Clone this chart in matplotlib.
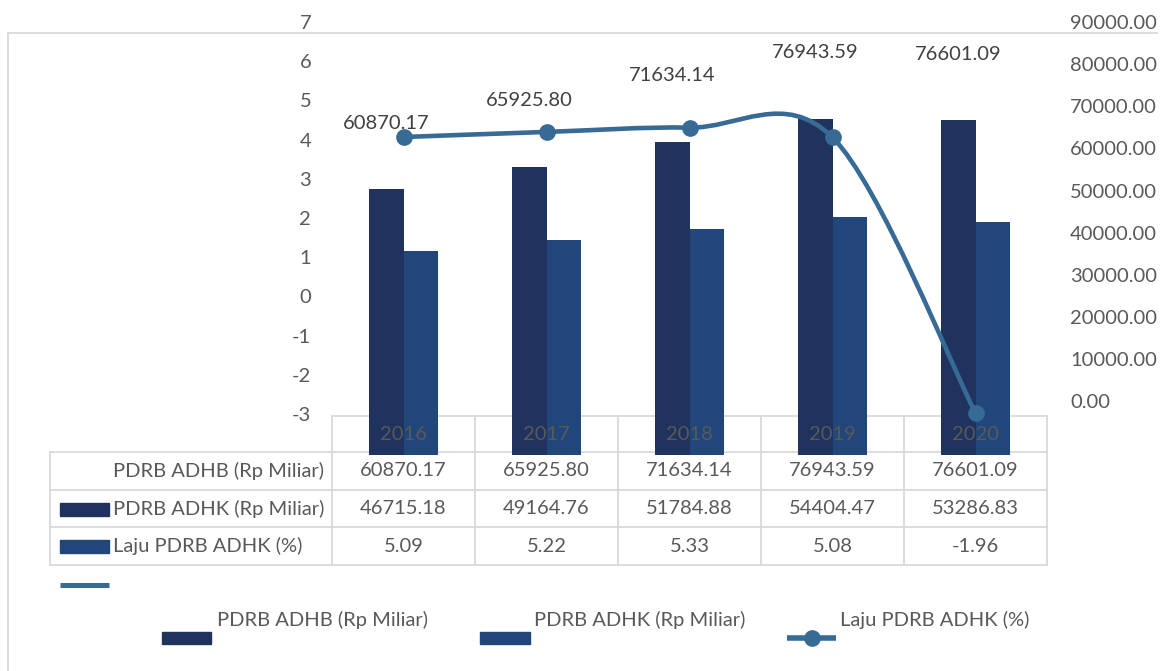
import numpy as np
import matplotlib.pyplot as plt
from matplotlib.path import Path
from matplotlib.patches import PathPatch, Rectangle
from matplotlib.transforms import blended_transform_factory

plt.rcParams['font.family'] = ['Lato', 'DejaVu Sans']

# data
years = ['2016', '2017', '2018', '2019', '2020']
adhb = [60870.17, 65925.80, 71634.14, 76943.59, 76601.09]
adhk = [46715.18, 49164.76, 51784.88, 54404.47, 53286.83]
laju = [5.09, 5.22, 5.33, 5.08, -1.96]
series = ['PDRB ADHB (Rp Miliar)', 'PDRB ADHK (Rp Miliar)', 'Laju PDRB ADHK (%)']
left_ticks = [-3, -2, -1, 0, 1, 2, 3, 4, 5, 6, 7]
right_ticks = [0, 10000, 20000, 30000, 40000, 50000, 60000, 70000, 80000, 90000]

# colours
C_ADHB = '#1f335e'
C_ADHK = '#20467a'
C_LINE = '#386a96'
GREY = '#595959'
DARK = '#404040'
GRID = '#d9d9d9'
FS = 14.5

W, H = 1167, 671
fig = plt.figure(figsize=(W / 100, H / 100), dpi=100)


def rect(x0, y0, x1, y1):
    # pixel box (top-left origin) -> figure fraction
    return [x0 / W, 1 - y1 / H, (x1 - x0) / W, (y1 - y0) / H]


def bare(ax):
    ax.set_xlim(-0.5, 4.5)
    ax.patch.set_alpha(0)
    for s in ax.spines.values():
        s.set_visible(False)
    ax.set_xticks([])


# layout layer in pixel units: frame, table, legend
lay = fig.add_axes([0, 0, 1, 1])
lay.set_xlim(0, W)
lay.set_ylim(H, 0)
lay.axis('off')

# value axes (labels only)
ax_l = fig.add_axes(rect(332, 10, 1047, 455))
bare(ax_l)
ax_l.set_ylim((296.4 - 455) / 39.2, (296.4 - 10) / 39.2)
ax_l.set_yticks(left_ticks)
ax_l.set_yticklabels([str(t) for t in left_ticks])
ax_l.tick_params(axis='y', length=0, pad=15, labelsize=FS, labelcolor=GREY)

ax_r = fig.add_axes(rect(332, 10, 1047, 455))
bare(ax_r)
ax_r.set_ylim((401 - 455) / 0.00421, (401 - 10) / 0.00421)
ax_r.yaxis.tick_right()
ax_r.set_yticks(right_ticks)
ax_r.set_yticklabels([f'{t:.2f}' for t in right_ticks])
ax_r.tick_params(axis='y', length=0, pad=16.5, labelsize=FS, labelcolor=GREY)

# bars
ax_b = fig.add_axes(rect(332, 33, 1047, 455))
bare(ax_b)
ax_b.set_yticks([])
ax_b.set_ylim(0, (455 - 33) / 0.00437)
x = np.arange(len(years))
w = 0.241
ax_b.bar(x - w / 2, adhb, w, color=C_ADHB, zorder=2)
ax_b.bar(x + w / 2, adhk, w, color=C_ADHK, zorder=2)
for i, v in enumerate(adhb):
    ax_b.annotate(f'{v:.2f}', xy=(x[i] - w / 2, v), xytext=(0, 47.5),
                  textcoords='offset points', ha='center', va='center',
                  fontsize=FS, color=DARK)

# smoothed growth line (cardinal spline as cubic Bezier)
ax_ln = fig.add_axes(rect(332, 33, 1047, 455))
bare(ax_ln)
ax_ln.set_yticks([])
ax_ln.set_ylim((336.3 - 455) / 39.15, (336.3 - 33) / 39.15)
pts = np.column_stack([x, laju]).astype(float)
verts = [pts[0]]
codes = [Path.MOVETO]
n = len(pts)
for i in range(n - 1):
    p0 = pts[max(i - 1, 0)]
    p1, p2 = pts[i], pts[i + 1]
    p3 = pts[min(i + 2, n - 1)]
    verts += [p1 + (p2 - p0) / 6, p2 - (p3 - p1) / 6, p2]
    codes += [Path.CURVE4] * 3
ax_ln.add_patch(PathPatch(Path(verts, codes), fill=False, edgecolor=C_LINE,
                          lw=3.3, capstyle='round', zorder=3))
ax_ln.plot(x, laju, 'o', color=C_LINE, ms=11, zorder=4)

# chart frame
lay.plot([8, 1157], [33, 33], color=GRID, lw=1.3)
lay.plot([8, 8], [33, H], color=GRID, lw=1.3)

# data table
tb = blended_transform_factory(ax_b.transData, lay.transData)
cols = [332, 475, 618, 761, 904, 1047]
rows = [452, 490, 527, 565]
lay.plot([332, 1047], [416, 416], color=GRID, lw=1.3)
for yy in rows:
    lay.plot([50, 1047], [yy, yy], color=GRID, lw=1.3)
lay.plot([50, 50], [452, 565], color=GRID, lw=1.3)
for xx in cols:
    lay.plot([xx, xx], [416, 565], color=GRID, lw=1.3)

for i, yr in enumerate(years):
    ax_b.text(x[i], 434.5, yr, transform=tb, ha='center', va='center',
              fontsize=FS, color=GREY, zorder=5)

table_rows = [[f'{v:.2f}' for v in adhb],
              [f'{v:.2f}' for v in adhk],
              [f'{v:.2f}' for v in laju]]
row_mid = [(rows[k] + rows[k + 1]) / 2 for k in range(3)]
for k, vals in enumerate(table_rows):
    lay.text(113, row_mid[k], series[k], ha='left', va='center',
             fontsize=FS, color=GREY)
    for i, s in enumerate(vals):
        lay.text(x[i], row_mid[k], s, transform=tb, ha='center', va='center',
                 fontsize=FS, color=GREY)

# table keys
lay.add_patch(Rectangle((60, 503), 49, 13, color=C_ADHB))
lay.add_patch(Rectangle((60, 540), 49, 13, color=C_ADHK))
lay.plot([60, 109], [584.5, 584.5], color=C_LINE, lw=3.6, solid_capstyle='butt')

# legend
lay.add_patch(Rectangle((162, 632), 49, 12, color=C_ADHB))
lay.text(217, 620, series[0], ha='left', va='center', fontsize=FS, color=GREY)
lay.add_patch(Rectangle((480, 632), 50, 12, color=C_ADHK))
lay.text(534, 620, series[1], ha='left', va='center', fontsize=FS, color=GREY)
lay.plot([787, 836], [638, 638], color=C_LINE, lw=4, solid_capstyle='butt')
lay.plot([812], [638], 'o', color=C_LINE, ms=11)
lay.text(840, 620, series[2], ha='left', va='center', fontsize=FS, color=GREY)

fig.savefig('out.png', dpi=100)
